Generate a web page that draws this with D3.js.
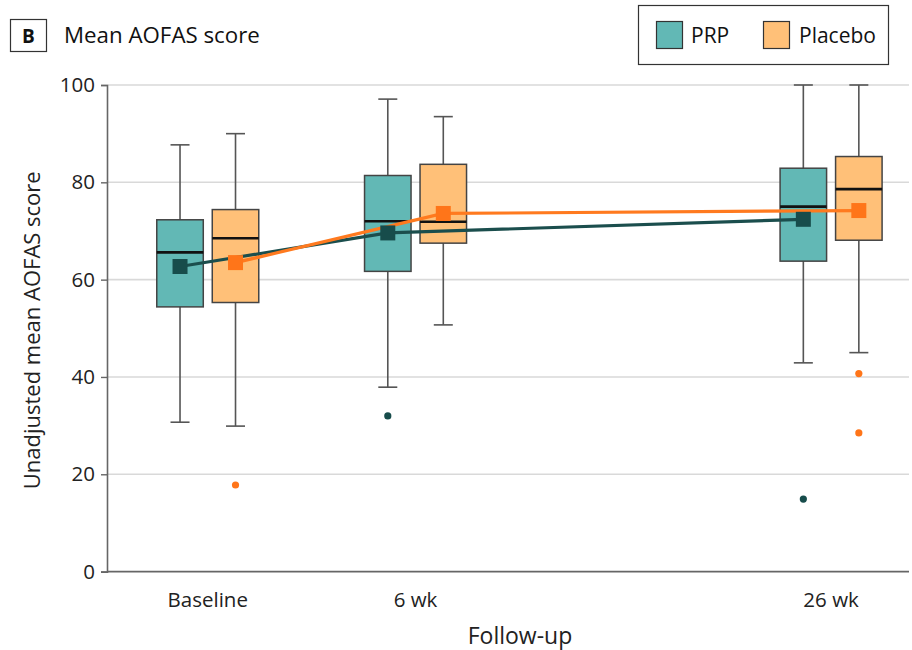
<!DOCTYPE html>
<html>
<head>
<meta charset="utf-8">
<script src="https://cdn.jsdelivr.net/npm/d3@7"></script>
<style>
  html, body { margin: 0; padding: 0; background: #fff; }
  svg { display: block; font-family: "Open Sans", "Noto Sans", sans-serif; }
</style>
</head>
<body>
<svg id="chart" width="912" height="650"></svg>
<script>
// Follow-up time points and their slot on the horizontal axis
const timepoints = ["Baseline", "6 wk", "26 wk"];
const slots = [1, 2, 4];
const groups = ["PRP", "Placebo"];
const yTicks = [0, 20, 40, 60, 80, 100];

// PRP group: box-plot statistics per time point
const prpLow = [30.7, 37.9, 42.9];
const prpQ1 = [54.4, 61.7, 63.8];
const prpMedian = [65.6, 72.0, 75.0];
const prpQ3 = [72.3, 81.4, 82.9];
const prpHigh = [87.7, 97.1, 100];
const prpMean = [62.7, 69.6, 72.4];
const prpOutliers = [[], [32.0], [14.9]];

// Placebo group: box-plot statistics per time point
const placeboLow = [29.9, 50.7, 45.0];
const placeboQ1 = [55.3, 67.5, 68.1];
const placeboMedian = [68.5, 71.9, 78.6];
const placeboQ3 = [74.4, 83.7, 85.3];
const placeboHigh = [90.0, 93.5, 100];
const placeboMean = [63.5, 73.6, 74.2];
const placeboOutliers = [[17.8], [], [40.7, 28.5]];

const style = {
  PRP: { fill: "#62b8b5", mark: "#174c4b", line: "#1b4e4d" },
  Placebo: { fill: "#ffc078", mark: "#ff7519", line: "#ff7a1f" }
};

function buildSeries(name, low, q1, med, q3, high, mean, outl) {
  return timepoints.map((t, i) => ({
    group: name, time: t, slot: slots[i],
    low: low[i], q1: q1[i], median: med[i], q3: q3[i], high: high[i],
    mean: mean[i], outliers: outl[i]
  }));
}
const series = [
  buildSeries("PRP", prpLow, prpQ1, prpMedian, prpQ3, prpHigh, prpMean, prpOutliers),
  buildSeries("Placebo", placeboLow, placeboQ1, placeboMedian, placeboQ3, placeboHigh, placeboMean, placeboOutliers)
];

const svg = d3.select("#chart");
const plotLeft = 107, plotRight = 909, plotTop = 85, plotBottom = 571.6;

const x = d3.scaleLinear().domain([0.515, 4.375]).range([plotLeft, plotRight]);
const y = d3.scaleLinear().domain([0, 100]).range([plotBottom, plotTop]);
const offset = d3.scaleBand().domain(groups).range([-51, 51]).paddingInner(0.162);
const bw = offset.bandwidth();
const cx = d => x(d.slot) + offset(d.group) + bw / 2;

// Horizontal gridlines
svg.append("g").selectAll("line")
  .data(yTicks.filter(v => v > 0))
  .join("line")
  .attr("x1", plotLeft).attr("x2", plotRight)
  .attr("y1", d => y(d)).attr("y2", d => y(d))
  .attr("stroke", "#d9d9d9").attr("stroke-width", 1.6);

// Y axis
const yAxis = svg.append("g")
  .attr("transform", `translate(${plotLeft},0)`)
  .call(d3.axisLeft(y).tickValues(yTicks).tickSize(6).tickPadding(6));
yAxis.select(".domain").attr("stroke", "#666").attr("stroke-width", 1.6);
yAxis.selectAll(".tick line").attr("stroke", "#666").attr("stroke-width", 1.4);
yAxis.selectAll(".tick text")
  .attr("font-size", 20.5).attr("fill", "#222")
  .attr("font-family", "'Open Sans', sans-serif");

// X axis (baseline line and category labels)
svg.append("line")
  .attr("x1", plotLeft).attr("x2", plotRight)
  .attr("y1", plotBottom).attr("y2", plotBottom)
  .attr("stroke", "#666").attr("stroke-width", 1.8);
svg.append("g").selectAll("text")
  .data(timepoints)
  .join("text")
  .attr("x", (d, i) => x(slots[i]))
  .attr("y", 607)
  .attr("text-anchor", "middle")
  .attr("font-size", 20.5).attr("fill", "#222")
  .text(d => d);

// Axis titles
svg.append("text")
  .attr("x", 520).attr("y", 644)
  .attr("text-anchor", "middle")
  .attr("font-size", 23).attr("fill", "#222")
  .text("Follow-up");
svg.append("text")
  .attr("transform", `translate(40,${(plotTop + plotBottom) / 2 + 2}) rotate(-90)`)
  .attr("text-anchor", "middle")
  .attr("font-size", 22).attr("fill", "#222")
  .text("Unadjusted mean AOFAS score");

// Box plots
const allRows = series.flat();
const boxes = svg.append("g").selectAll("g")
  .data(allRows)
  .join("g");

// whiskers
boxes.append("line")
  .attr("x1", cx).attr("x2", cx)
  .attr("y1", d => y(d.high)).attr("y2", d => y(d.low))
  .attr("stroke", "#555").attr("stroke-width", 1.6);
boxes.selectAll("line.cap")
  .data(d => [{ d, v: d.high }, { d, v: d.low }])
  .join("line").attr("class", "cap")
  .attr("x1", o => cx(o.d) - 9.5).attr("x2", o => cx(o.d) + 9.5)
  .attr("y1", o => y(o.v)).attr("y2", o => y(o.v))
  .attr("stroke", "#555").attr("stroke-width", 1.6);
// box
boxes.append("rect")
  .attr("x", d => cx(d) - bw / 2)
  .attr("width", bw)
  .attr("y", d => y(d.q3))
  .attr("height", d => y(d.q1) - y(d.q3))
  .attr("fill", d => style[d.group].fill)
  .attr("stroke", "#444").attr("stroke-width", 1.5);
// median
boxes.append("line")
  .attr("x1", d => cx(d) - bw / 2).attr("x2", d => cx(d) + bw / 2)
  .attr("y1", d => y(d.median)).attr("y2", d => y(d.median))
  .attr("stroke", "#111").attr("stroke-width", 2.6);
// outliers
boxes.selectAll("circle")
  .data(d => d.outliers.map(v => ({ d, v })))
  .join("circle")
  .attr("cx", o => cx(o.d)).attr("cy", o => y(o.v))
  .attr("r", 3.6)
  .attr("fill", o => style[o.d.group].mark);

// Mean trajectories
const meanLine = d3.line().x(d => cx(d)).y(d => y(d.mean));
svg.append("g").selectAll("path")
  .data(series)
  .join("path")
  .attr("d", meanLine)
  .attr("fill", "none")
  .attr("stroke", s => style[s[0].group].line)
  .attr("stroke-width", 3.2);

// Mean markers
const sq = 15;
svg.append("g").selectAll("rect")
  .data(allRows)
  .join("rect")
  .attr("x", d => cx(d) - sq / 2).attr("y", d => y(d.mean) - sq / 2)
  .attr("width", sq).attr("height", sq)
  .attr("fill", d => style[d.group].mark);

// Panel title
svg.append("rect")
  .attr("x", 10.5).attr("y", 19.5).attr("width", 36).attr("height", 32)
  .attr("fill", "#fff").attr("stroke", "#333").attr("stroke-width", 1.2);
svg.append("text")
  .attr("x", 28.5).attr("y", 43)
  .attr("text-anchor", "middle")
  .attr("font-size", 19).attr("font-weight", "bold").attr("fill", "#111")
  .text("B");
svg.append("text")
  .attr("x", 64).attr("y", 43)
  .attr("font-size", 22.3).attr("fill", "#111")
  .text("Mean AOFAS score");

// Legend
const legend = svg.append("g");
legend.append("rect")
  .attr("x", 638.5).attr("y", 5.5).attr("width", 250).attr("height", 59)
  .attr("fill", "#fff").attr("stroke", "#333").attr("stroke-width", 1.2);
const legendItems = [
  { name: "PRP", sx: 656, tx: 691 },
  { name: "Placebo", sx: 763, tx: 799 }
];
legend.selectAll("rect.sw")
  .data(legendItems)
  .join("rect").attr("class", "sw")
  .attr("x", d => d.sx + 0.5).attr("y", 21.5)
  .attr("width", 26).attr("height", 27)
  .attr("fill", d => style[d.name].fill)
  .attr("stroke", "#333").attr("stroke-width", 1.2);
legend.selectAll("text")
  .data(legendItems)
  .join("text")
  .attr("x", d => d.tx).attr("y", 43)
  .attr("font-size", 21).attr("fill", "#111")
  .text(d => d.name);
</script>
</body>
</html>
